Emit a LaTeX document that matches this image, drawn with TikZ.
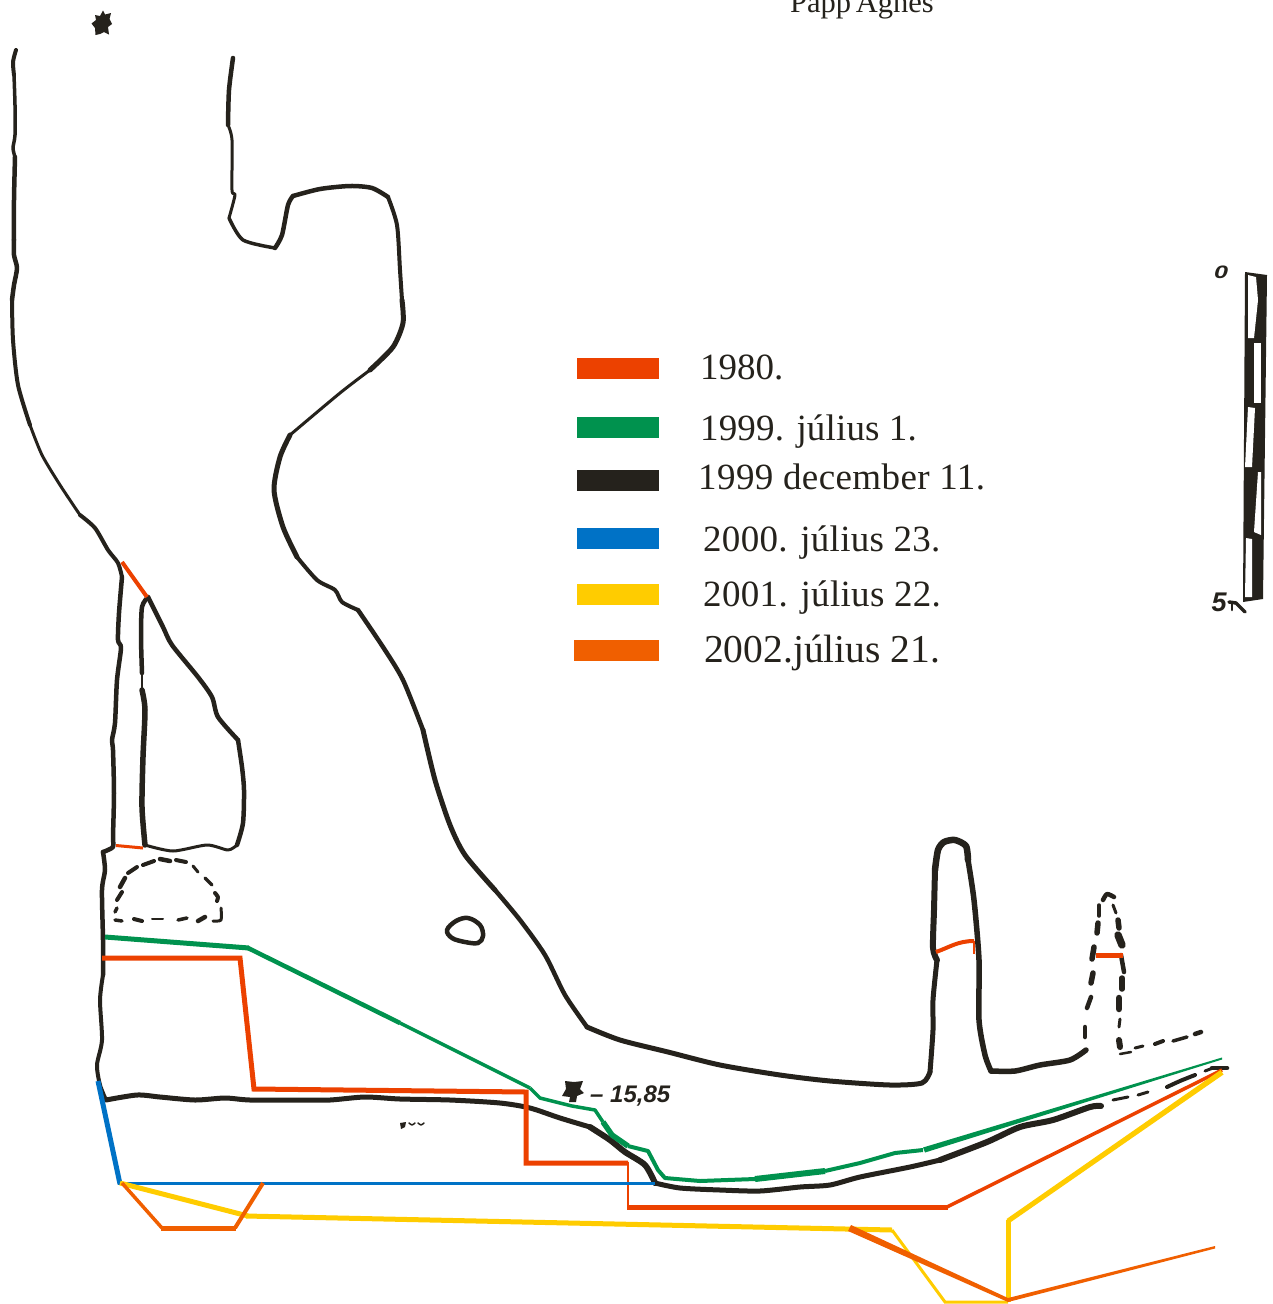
\documentclass[tikz,border=0pt]{standalone}
\usepackage{fontspec}
\setmainfont{Liberation Serif}
\newfontfamily\handfont{Liberation Sans}
\definecolor{cRed}{HTML}{EC4100}
\definecolor{cGreen}{HTML}{00924E}
\definecolor{cBlack}{HTML}{25221C}
\definecolor{cBlue}{HTML}{0072C6}
\definecolor{cYellow}{HTML}{FFCC00}
\definecolor{cOrange}{HTML}{F05F00}
\newcommand{\seg}[2]{\draw[bank,line width=#1pt] plot[smooth,tension=.45] coordinates {#2};}
\newcommand{\dsh}[2]{\draw[bank,line width=#1pt] plot[smooth,tension=.45] coordinates {#2};}
\tikzset{
  bank/.style={draw=cBlack,line cap=round,line join=round},
  fillblack/.style={fill=cBlack,draw=none},
  legendbar/.style={draw=none,minimum height=21pt,inner sep=0pt,anchor=north west},
  legendtext/.style={anchor=base west,inner sep=0pt,text=cBlack,font=\fontsize{37}{37}\selectfont},
  redline/.style={draw=cRed,line join=miter},
  greenline/.style={draw=cGreen,line join=round},
  blueline/.style={draw=cBlue,line join=miter},
  yellowline/.style={draw=cYellow,line join=miter},
  orangeline/.style={draw=cOrange,line join=miter},
  handtext/.style={inner sep=0pt,text=cBlack,font=\handfont\bfseries\itshape}
}
\begin{document}
\begin{tikzpicture}[x=1pt,y=-1pt]
\useasboundingbox (0,0) rectangle (1272,1304);
\clip (0,0) rectangle (1272,1304);
\fill[white] (0,0) rectangle (1272,1304);
% author
\node[anchor=base west,inner sep=0pt,text=cBlack,font=\fontsize{30.5}{30.5}\selectfont] (author) at (790,12.5) {Papp\hspace{-3pt} Ágnes};
% star top
\fill[fillblack] (103,10.5) -- (105,14.5) -- (111,13) -- (109.5,19) -- (112,24) -- (108,27) -- (109,34.5) -- (104,32) -- (100,34) -- (95.5,35) -- (95,28) -- (91.5,23.5) -- (96,20) -- (95,15) -- (100,16) -- cycle;
% left bank
\seg{4}{(16,50)(13,62)(14,75)}
\seg{3.5}{(14,75)(15,105)(15,135)(13,148)(15,157)}
\seg{4.5}{(15,157)(14,200)(14,240)}
\seg{4.5}{(14,240)(14,255)(17,268)(14,285)(12,300)}
\seg{4}{(12,300)(13,340)(18,385)(30,425)}
\seg{3}{(30,425)(42,455)(60,485)(80,515)}
\seg{4}{(80,515)(95,528)(108,550)(118,563)(122,577)}
\seg{4.5}{(122,577)(119,613)(118,640)(121,648)(117,680)(115,723)(112,740)(113,750)(114,793)(113,837)(113,847)(103,852)}
\seg{4.5}{(103,852)(105,870)(102,890)(103,940)(103,975)}
\seg{4}{(103,975)(100,1000)(102,1040)(97,1065)(100,1085)(106,1100)}
% island
\seg{4.5}{(148,597)(142,607)(141,637)(142,673)}
\seg{2.5}{(142,673)(142,690)}
\seg{5.5}{(142,690)(145,710)(143,757)(142,807)(145,845)}
\seg{3}{(145,845)(173,851)(207,845)(228,850)(237,845)}
\seg{4.5}{(237,845)(243,823)(244,790)(242,767)(238,740)}
\seg{4.5}{(238,740)(218,717)(212,697)(198,677)(172,645)(163,627)(148,597)}
% right bank
\seg{4.5}{(233,58)(229,90)(228,125)}
\seg{3}{(228,125)(232,140)(232,190)(235,195)(229,218)}
\seg{3.5}{(229,218)(243,240)(275,248)}
\seg{4.5}{(275,248)(282,235)(288,205)(293,196)}
\seg{4.5}{(293,196)(320,189)(350,186)(372,188)(388,197)}
\seg{4}{(388,197)(397,225)(400,270)(402,300)}
\seg{5}{(402,300)(403,323)(393,347)(370,370)}
\seg{3}{(370,370)(340,393)(290,435)}
\seg{5}{(290,435)(280,457)(274,490)(283,527)(297,557)}
\seg{4}{(297,557)(317,580)(335,590)(342,602)(358,610)}
\seg{4.5}{(358,610)(383,647)(403,680)(423,730)}
\seg{5}{(423,730)(435,780)(450,825)(465,855)(495,890)}
\seg{4.5}{(495,890)(520,920)(545,955)(565,995)(587,1027)}
\seg{5}{(587,1027)(620,1040)(668,1052)(720,1065)(780,1075)(830,1081)(890,1085)(922,1083)(930,1072)}
\seg{5}{(930,1072)(933,1030)(933,1000)(937,960)}
\seg{6}{(937,960)(933,948)(934,910)(935,870)}
\seg{6.5}{(935,870)(938,850)(944,842)(955,840)(966,846)(968,860)}
\seg{5.5}{(968,860)(974,900)(979,960)(979,1020)(985,1055)(991,1071)}
\seg{5.5}{(991,1071)(1015,1071)(1040,1065)(1070,1060)(1086,1050)}
% pond
\draw[bank,line width=4.5pt] plot[smooth cycle,tension=.6] coordinates {(447,930)(456,921)(468,918)(480,925)(483,936)(478,943)(465,942)(452,938)};
% dashed oval
\dsh{3.5}{(115,920)(122,921)}\dsh{4}{(134,919)(142,921)}\dsh{2}{(152,919)(163,919)}\dsh{3.5}{(178,920)(187,918)}\dsh{4.5}{(198,921)(205,917)}
\dsh{3}{(213,921)(221,920)(221,908)}\dsh{4}{(215,893)(218,897)(217,901)}\dsh{3.5}{(205,878)(212,885)}\dsh{3}{(193,866)(198,872)}
\dsh{4}{(176,860)(186,862)}\dsh{4.5}{(160,859)(170,861)}\dsh{4}{(143,865)(154,861)}\dsh{4}{(128,873)(137,867)}\dsh{4.5}{(120,887)(125,878)}\dsh{4}{(117,900)(122,892)}\dsh{3.5}{(115,912)(117,908)}
% dashed finger
\dsh{4.5}{(1085,1037)(1085,1027)}\dsh{4.5}{(1087,1008)(1091,997)}\dsh{5.5}{(1091,983)(1093,973)}\dsh{5.5}{(1092,959)(1094,947)}\dsh{5.5}{(1097,933)(1098,923)}\dsh{3.5}{(1099,916)(1099,905)}\dsh{4.5}{(1103,900)(1107,894)(1114,897)}
\dsh{3}{(1113,905)(1116,913)}\dsh{5.5}{(1118,920)(1119,928)}\dsh{7.5}{(1118,935)(1122,945)}\dsh{4.5}{(1121,955)(1124,972)}\dsh{5.5}{(1122,978)(1122,989)}\dsh{6.5}{(1119,998)(1119,1009)}\dsh{3}{(1120,1019)(1119,1027)}\dsh{6}{(1119,1040)(1120,1047)}
\dsh{2.5}{(1120,1054)(1131,1052)}\dsh{3}{(1135,1048)(1143,1046)}\dsh{4}{(1155,1044)(1163,1041)}\dsh{3.5}{(1173,1041)(1187,1037)}\dsh{4.5}{(1195,1034)(1201,1032)}
% lower bank
\seg{5}{(106,1100)(137,1095)(160,1097)(195,1100)(225,1098)(250,1100)(300,1100)(330,1100)(365,1097)(400,1099)(450,1100)(500,1103)(530,1108)(560,1118)(590,1127)}
\seg{6}{(590,1127)(610,1140)(625,1152)(645,1165)(655,1183)}
\seg{5}{(655,1183)(680,1188)(720,1190)(760,1191)(800,1187)(830,1185)(860,1177)(910,1167)(940,1160)}
\seg{6}{(940,1160)(987,1142)(1020,1127)(1053,1120)(1090,1107)(1101,1106)}
\dsh{3}{(1113,1100)(1128,1097)}\dsh{3}{(1138,1095)(1148,1092)}\dsh{4}{(1167,1087)(1180,1081)(1195,1075)}\dsh{3}{(1205,1071)(1213,1068)}\dsh{4.5}{(1212,1068)(1227,1068)}
% small mark
\fill[fillblack] (400,1123) -- (406,1122) -- (405,1127) -- (401,1129) -- cycle;
\dsh{1.5}{(409,1123)(412,1125)(415,1123)}\dsh{1.5}{(418,1123)(421,1125)(424,1123)}
% level mark
\fill[fillblack] (565,1081) -- (574,1082) -- (583,1081) -- (580,1089) -- (584,1093) -- (577,1096) -- (576,1102) -- (569,1102) -- (570,1097) -- (562,1096) -- (566,1089) -- cycle;
\node[handtext,anchor=base west,font=\handfont\bfseries\itshape\fontsize{24}{24}\selectfont] (level) at (590,1102.5) {– 15,85};
% 1980 red
\draw[redline,line width=5pt] (102,958) -- (240,958) -- (254,1089) -- (526,1092) -- (526,1163) -- (628,1163);
\draw[redline,line width=2.5pt] (628,1162) -- (628,1207);
\draw[redline,line width=5pt] (627,1207) -- (948,1207);
\draw[redline,line width=3.5pt] (947,1207) -- (1222,1070);
\draw[redline,line width=4pt] (122,562) -- (147,597);
\draw[redline,line width=3pt] (116,845.5) -- (143,848);
\draw[redline,line width=4pt,line join=round] (936,952) .. controls (950,947) and (958,941) .. (974,941);
\draw[redline,line width=2.5pt] (974,941) -- (974,954);
\draw[redline,line width=5pt] (1096,955) -- (1123,955);
% blue
\draw[blueline,line width=5pt] (98,1081) -- (120,1184);
\draw[blueline,line width=3pt] (118,1183) -- (655,1183);
% green
\draw[greenline,line width=5pt] (105,937) -- (249,948);
\draw[greenline,line width=4.5pt] (248,948) -- (400,1023);
\draw[greenline,line width=3.5pt] (400,1023) -- (530,1088);
\draw[greenline,line width=3.5pt] (530,1088) -- (540,1098) -- (572,1106) -- (595,1110) -- (603,1122);
\draw[greenline,line width=5.5pt] (603,1122) -- (612,1135) -- (628,1146);
\draw[greenline,line width=4pt] (628,1146) -- (648,1151) -- (658,1170) -- (665,1178) -- (700,1181) -- (755,1179);
\draw[greenline,line width=6pt] (755,1179) -- (825,1171);
\draw[greenline,line width=4pt] (825,1171) -- (860,1163) -- (895,1153) -- (923,1150);
\fill[cGreen] (923,1147.5) -- (1222,1057.5) -- (1222,1059.5) -- (925,1152.5) -- cycle;
% yellow
\draw[yellowline,line width=5pt] (120,1183) -- (248,1216);
\draw[yellowline,line width=5pt] (246,1216) -- (892,1230);
\draw[yellowline,line width=3pt] (892,1230) -- (945,1302) -- (1008,1302);
\draw[yellowline,line width=5pt] (1008,1302) -- (1008,1220);
\fill[cYellow] (1006.5,1219) -- (1220.5,1070) -- (1223.5,1074.5) -- (1009.5,1223) -- cycle;
% orange
\draw[orangeline,line width=3.5pt] (122,1183) -- (162,1228);
\draw[orangeline,line width=5pt] (161,1228) -- (236,1228);
\draw[orangeline,line width=4pt] (235,1228) -- (263,1183);
\fill[cOrange] (851,1225) -- (1008,1298) -- (1215,1246) -- (1215,1248.5) -- (1008,1302) -- (848,1231) -- cycle;
% legend
\node[legendbar,fill=cRed,minimum width=82pt] (bar1) at (577,358) {};
\node[legendbar,fill=cGreen,minimum width=82pt] (bar2) at (577,417) {};
\node[legendbar,fill=cBlack,minimum width=82pt] (bar3) at (577,470) {};
\node[legendbar,fill=cBlue,minimum width=82pt] (bar4) at (577,528) {};
\node[legendbar,fill=cYellow,minimum width=82pt] (bar5) at (577,584) {};
\node[legendbar,fill=cOrange,minimum width=85pt] (bar6) at (574,640) {};
\node[legendtext] (t1) at (700,379) {1980.};
\node[legendtext] (t2) at (700,440) {\addfontfeature{LetterSpace=0.4}1999. július 1.};
\node[legendtext] (t3) at (698,489) {\addfontfeature{LetterSpace=1.1}1999 december 11.};
\node[legendtext] (t4) at (703,551) {\addfontfeature{LetterSpace=0.8}2000. július 23.};
\node[legendtext] (t5) at (703,606) {\addfontfeature{LetterSpace=0.9}2001. július 22.};
\node[legendtext,font=\fontsize{39.5}{39.5}\selectfont] (t6) at (704,662) {2002.július 21.};
% scale bar
\fill[fillblack] (1245,272) -- (1267,275) -- (1263,599) -- (1243,602) -- cycle;
\fill[white] (1248,275) -- (1256,277) -- (1258,300) -- (1254,338) -- (1248,338) -- cycle;
\fill[white] (1254,343) -- (1261,343) -- (1261,403) -- (1254,403) -- cycle;
\fill[white] (1248,407) -- (1255,408) -- (1252,467) -- (1245,467) -- cycle;
\fill[white] (1258,472) -- (1261,472) -- (1261,535) -- (1254,532) -- cycle;
\fill[white] (1246,538) -- (1252,539) -- (1252,597) -- (1245,597) -- cycle;
\node[handtext,xscale=1.4,font=\handfont\bfseries\itshape\fontsize{18}{18}\selectfont] (zero) at (1221,272.5) {0};
\node[handtext,font=\handfont\bfseries\itshape\fontsize{27}{27}\selectfont] (five) at (1219,602) {5};
\draw[bank,line width=3.5pt] (1229,602) -- (1236,603) -- (1245,612);
\draw[bank,line width=2.5pt] (1232,603) -- (1232,610);
\end{tikzpicture}
\end{document}
